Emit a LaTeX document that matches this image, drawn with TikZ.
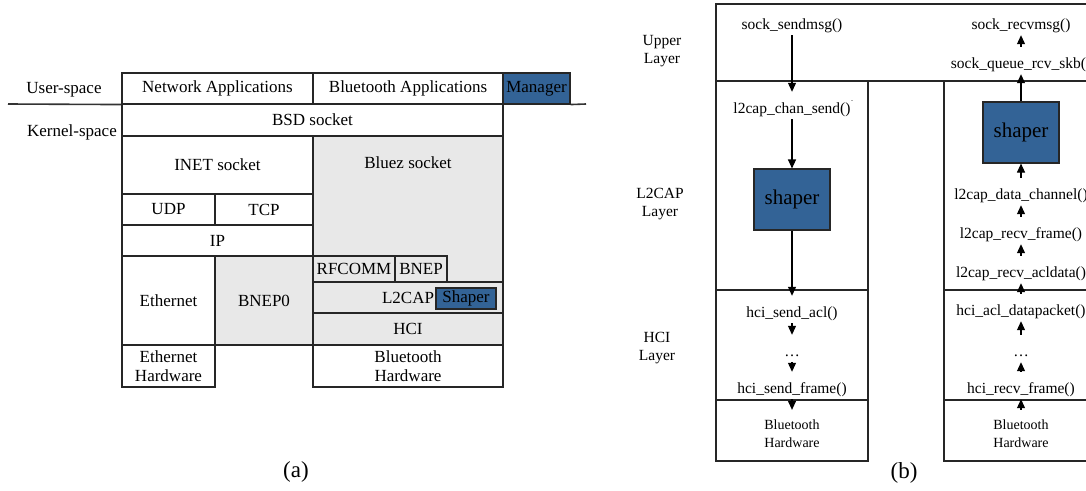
\documentclass[tikz,border=0pt]{standalone}
\usepackage{fontspec}
\setmainfont{Liberation Serif}
\usetikzlibrary{arrows.meta}
\definecolor{shblue}{RGB}{51,99,150}
\definecolor{lgray}{RGB}{232,232,232}
% \mkcell[style]{name}{x1}{y1}{x2}{y2}{text}
\newcommand{\mkcell}[7][]{\node[cellbox,#1,minimum width={(#5-#3)*1pt},minimum height={(#6-#4)*1pt}] (#2) at ({(#3+#5)/2},{(#4+#6)/2}) {#7};}
\begin{document}
\begin{tikzpicture}[x=1pt,y=-1pt,
  cellbox/.style={draw=black!85, line width=1.1pt, inner sep=0pt, fill=white, font=\fontsize{17}{20}\selectfont, align=center},
  grayc/.style={fill=lgray},
  bluec/.style={fill=shblue},
  fa/.style={font=\fontsize{17}{20}\selectfont, inner sep=0pt},
  fn/.style={font=\fontsize{15.5}{18}\selectfont, inner sep=0pt, text height=21pt, text depth=6pt, anchor=base},
  hwt/.style={font=\fontsize{14}{18}\selectfont, align=center, inner xsep=0pt, inner ysep=10pt},
  lab/.style={font=\fontsize{15.5}{18}\selectfont, align=center, inner sep=0pt},
  arr/.style={-{Triangle[length=9pt,width=8pt]}, line width=1.1pt, draw=black},
  sep/.style={line width=1.6pt, draw=black!80}
]
\useasboundingbox (0,0) rectangle (1086,490);
\clip (0,0) rectangle (1086,490);
\fill[white] (0,0) rectangle (1086,490);

% ---------------- panel (a) ----------------
\node[fa] (us) at (64,90) {User-space};
\node[fa] (ks) at (72,132) {Kernel-space};

\mkcell{netapp}{122}{73}{313}{104}{Network Applications}
\mkcell{btapp}{313}{73}{503}{104}{Bluetooth Applications}
\mkcell[bluec]{manager}{503}{73}{570}{104}{Manager}
\mkcell{bsd}{122}{104}{503}{136}{BSD socket}
\mkcell{inet}{122}{136}{313}{194}{INET socket}
\mkcell[grayc]{bluez}{313}{136}{503}{282}{}
\node[fa] (bluezt) at (408,163) {Bluez socket};
\mkcell{udp}{122}{194}{215}{225}{UDP}
\mkcell{tcp}{215}{194}{313}{225}{TCP}
\mkcell{ip}{122}{225}{313}{256}{IP}
\mkcell[grayc]{rfcomm}{313}{256}{395}{282}{RFCOMM}
\mkcell[grayc]{bnep}{395}{256}{447}{282}{BNEP}
\mkcell{eth}{122}{256}{215}{345}{Ethernet}
\mkcell[grayc]{bnep0}{215}{256}{313}{345}{BNEP0}
\mkcell[grayc]{l2cap}{313}{282}{503}{313}{}
\node[fa] (l2capt) at (408,298) {L2CAP};
\mkcell[bluec]{shA}{436}{288}{496}{309}{Shaper}
\mkcell[grayc]{hci}{313}{313}{503}{345}{HCI}
\mkcell{ethhw}{122}{345}{215}{387}{Ethernet\\[-1pt]Hardware}
\mkcell{bthw}{313}{345}{503}{387}{Bluetooth\\[-1pt]Hardware}

\coordinate (ul) at (8,104);
\coordinate (ur) at (586,104);
\draw[sep] (ul) -- (netapp.south west);
\draw[sep] (manager.south east) -- (ur);

\node[font=\fontsize{23}{26}\selectfont, inner sep=0pt] (capa) at (296,472) {(a)};

% ---------------- panel (b) ----------------
\mkcell{upper}{716}{4}{1100}{81}{}
\mkcell{l1}{716}{81}{868}{290}{}
\mkcell{l2}{716}{290}{868}{400}{}
\mkcell{l3}{716}{400}{868}{461}{}
\mkcell{r1}{944}{81}{1098}{290}{}
\mkcell{r2}{944}{290}{1098}{400}{}
\mkcell{r3}{944}{400}{1098}{461}{}

\node[lab] (lu) at (662,51) {Upper\\Layer};
\node[lab] (ll) at (660,204.5) {L2CAP\\Layer};
\node[lab] (lh) at (657,348) {HCI\\Layer};

% left column (send)
\node[fn] (ss) at (792,29) {sock\_sendmsg()};
\node[fn] (cs) at (792,113) {l2cap\_chan\_send()\rlap{\raisebox{7pt}{\fontsize{9}{9}\selectfont ˙}}};
\mkcell[bluec,font=\fontsize{21}{24}\selectfont]{shL}{754}{169}{830}{230}{shaper}
\node[fn] (sa) at (792,317) {hci\_send\_acl()};
\node[fn] (dl) at (792,356) {…};
\node[fn] (sf) at (792,393) {hci\_send\_frame()};
\node[hwt] (hwL) at (792,434) {Bluetooth\\Hardware};

\draw[arr] (ss.south) -- (cs.north);
\draw[arr] (cs.south) -- (shL.north);
\draw[arr] (shL.south) -- (sa.north);
\draw[arr] (sa.south) -- (dl.north);
\draw[arr] (dl.south) -- (sf.north);
\draw[arr] (sf.south) -- (hwL.north);

% right column (receive)
\node[fn] (rm) at (1021,29) {sock\_recvmsg()};
\node[fn] (qs) at (1021,68) {sock\_queue\_rcv\_skb()};
\mkcell[bluec,font=\fontsize{21}{24}\selectfont]{shR}{983}{102}{1059}{163}{shaper}
\node[fn] (dc) at (1021,199) {l2cap\_data\_channel()};
\node[fn] (rf) at (1021,238) {l2cap\_recv\_frame()};
\node[fn] (ra) at (1021,277) {l2cap\_recv\_acldata()};
\node[fn] (dp) at (1021,315) {hci\_acl\_datapacket()};
\node[fn] (dr) at (1021,356) {…};
\node[fn] (hr) at (1021,393) {hci\_recv\_frame()};
\node[hwt] (hwR) at (1021,434) {Bluetooth\\Hardware};

\draw[arr] (qs.north) -- (rm.south);
\draw[arr] (shR.north) -- (qs.south);
\draw[arr] (dc.north) -- (shR.south);
\draw[arr] (rf.north) -- (dc.south);
\draw[arr] (ra.north) -- (rf.south);
\draw[arr] (dp.north) -- (ra.south);
\draw[arr] (dr.north) -- (dp.south);
\draw[arr] (hr.north) -- (dr.south);
\draw[arr] (hwR.north) -- (hr.south);

\node[font=\fontsize{23}{26}\selectfont, inner sep=0pt] (capb) at (904,473) {(b)};
\end{tikzpicture}
\end{document}
